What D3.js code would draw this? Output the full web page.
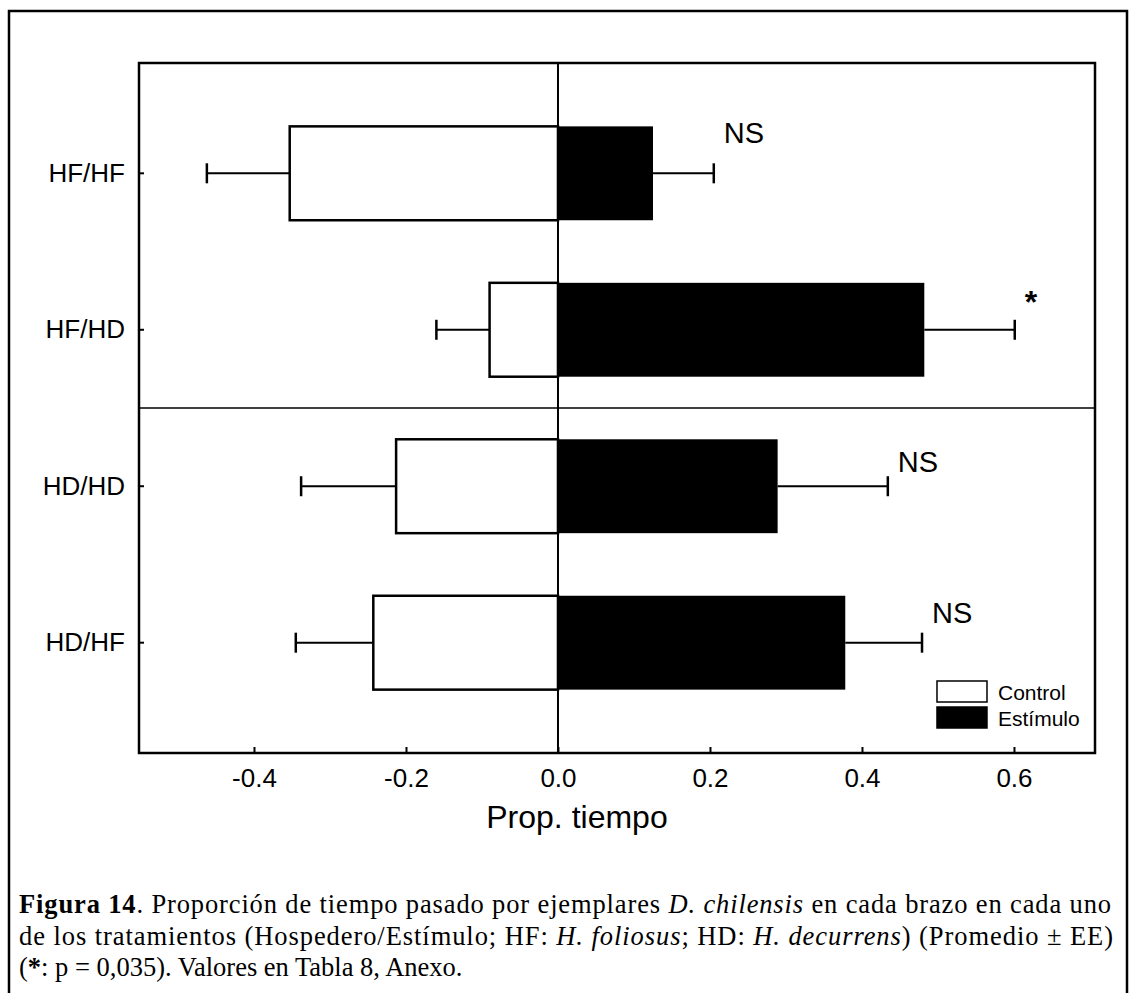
<!DOCTYPE html>
<html>
<head>
<meta charset="utf-8">
<script src="https://cdn.jsdelivr.net/npm/d3@7"></script>
<style>
    body { margin: 0; background: #fff; }
    svg { display: block; }
    .sans { font-family: "Liberation Sans", Arial, sans-serif; }
    .serif { font-family: "Liberation Serif", "Times New Roman", serif; }
</style>
</head>
<body>
<div id="chart"></div>
<script>
/* eslint-env browser */

var categories = ["HF/HF", "HF/HD", "HD/HD", "HD/HF"],
    controlMean = [-0.353, -0.090, -0.213, -0.243],
    controlErr = [0.109, 0.070, 0.125, 0.102],
    stimulusMean = [0.125, 0.482, 0.289, 0.378],
    stimulusErr = [0.080, 0.119, 0.145, 0.101],
    sigLabels = ["NS", "*", "NS", "NS"],
    xTicks = [-0.4, -0.2, 0.0, 0.2, 0.4, 0.6],
    legendLabels = ["Control", "Estímulo"];

// per-row vertical nudge of the significance marks (layout only)
var sigNudge = [-30, -20, -14, -20];

var width = 1129,
    height = 993,
    margin = { top: 63, right: 34, bottom: 240, left: 139 },
    plotW = width - margin.left - margin.right,
    plotH = height - margin.top - margin.bottom;

var svg = d3.select("#chart").append("svg")
    .attr("width", width)
    .attr("height", height);

// outer frame of the scanned figure
svg.append("path")
    .attr("d", "M9,1000 L9,11 L1127,11 L1127,1000")
    .attr("fill", "none")
    .attr("stroke", "#000")
    .attr("stroke-width", 2.5);

var g = svg.append("g")
    .attr("transform", "translate(" + margin.left + "," + margin.top + ")");

var x = d3.scaleLinear()
        .domain([-0.5513, 0.7066])
        .range([0, plotW]),
    y = d3.scaleBand()
        .domain(categories)
        .range([0, plotH])
        .paddingInner(0.4)
        .paddingOuter(0.405);

var rows = categories.map(function (c, i) {
    return {
        cat: c,
        control: controlMean[i],
        controlErr: controlErr[i],
        stim: stimulusMean[i],
        stimErr: stimulusErr[i],
        sig: sigLabels[i],
        nudge: sigNudge[i]
    };
});

// error bars (drawn first so bars cover the stems)
function errBar(sel, valueFn, errFn) {
    sel.append("line")
        .attr("x1", function (d) { return x(valueFn(d)); })
        .attr("x2", function (d) { return x(valueFn(d) + errFn(d)); })
        .attr("y1", function (d) { return y(d.cat) + y.bandwidth() / 2; })
        .attr("y2", function (d) { return y(d.cat) + y.bandwidth() / 2; })
        .attr("stroke", "#000")
        .attr("stroke-width", 2);
    sel.append("line")
        .attr("x1", function (d) { return x(valueFn(d) + errFn(d)); })
        .attr("x2", function (d) { return x(valueFn(d) + errFn(d)); })
        .attr("y1", function (d) { return y(d.cat) + y.bandwidth() / 2 - 10; })
        .attr("y2", function (d) { return y(d.cat) + y.bandwidth() / 2 + 10; })
        .attr("stroke", "#000")
        .attr("stroke-width", 2.5);
}

var rowG = g.append("g").selectAll("g")
    .data(rows)
    .enter().append("g");

errBar(rowG, function (d) { return d.control; }, function (d) { return -d.controlErr; });
errBar(rowG, function (d) { return d.stim; }, function (d) { return d.stimErr; });

rowG.append("rect")
    .attr("x", function (d) { return x(d.control); })
    .attr("y", function (d) { return y(d.cat); })
    .attr("width", function (d) { return x(0) - x(d.control); })
    .attr("height", y.bandwidth())
    .attr("fill", "#fff")
    .attr("stroke", "#000")
    .attr("stroke-width", 2.5);

rowG.append("rect")
    .attr("x", x(0))
    .attr("y", function (d) { return y(d.cat); })
    .attr("width", function (d) { return x(d.stim) - x(0); })
    .attr("height", y.bandwidth())
    .attr("fill", "#000");

rowG.append("text")
    .attr("class", "sans")
    .attr("x", function (d) { return x(d.stim + d.stimErr) + 10; })
    .attr("y", function (d) {
        return y(d.cat) + y.bandwidth() / 2 + d.nudge + (d.sig === "*" ? 3 : 0);
    })
    .attr("font-size", function (d) { return d.sig === "*" ? 32 : 29; })
    .attr("font-weight", function (d) { return d.sig === "*" ? "bold" : "normal"; })
    .text(function (d) { return d.sig; });

// zero line and separator between host groups
g.append("line")
    .attr("x1", x(0)).attr("x2", x(0))
    .attr("y1", 0).attr("y2", plotH)
    .attr("stroke", "#000").attr("stroke-width", 2);

g.append("line")
    .attr("x1", 0).attr("x2", plotW)
    .attr("y1", (y("HF/HD") + y.bandwidth() + y("HD/HD")) / 2)
    .attr("y2", (y("HF/HD") + y.bandwidth() + y("HD/HD")) / 2)
    .attr("stroke", "#000").attr("stroke-width", 1.5);

// axes
var xAxis = g.append("g")
    .attr("class", "sans")
    .attr("transform", "translate(0," + plotH + ")")
    .call(d3.axisBottom(x).tickValues(xTicks).tickSize(-6).tickPadding(16)
        .tickFormat(function (d) { return d.toFixed(1); }));

var yAxis = g.append("g")
    .attr("class", "sans")
    .call(d3.axisLeft(y).tickSize(-5).tickPadding(14));

[xAxis, yAxis].forEach(function (ax) {
    ax.select(".domain").remove();
    ax.selectAll(".tick line").attr("stroke", "#000").attr("stroke-width", 2);
    ax.selectAll(".tick text")
        .attr("fill", "#000")
        .attr("font-family", "Liberation Sans, Arial, sans-serif")
        .attr("font-size", 26);
});
xAxis.selectAll(".tick text").attr("dy", "0.71em");

g.append("rect")
    .attr("width", plotW)
    .attr("height", plotH)
    .attr("fill", "none")
    .attr("stroke", "#000")
    .attr("stroke-width", 2.5);

g.append("text")
    .attr("class", "sans")
    .attr("x", x(0.025))
    .attr("y", plotH + 75)
    .attr("text-anchor", "middle")
    .attr("font-size", 32)
    .text("Prop. tiempo");

// legend
var legend = g.append("g")
    .attr("transform", "translate(" + (x(0.5) - 1) + "," + (plotH - 72) + ")");

legend.selectAll("rect")
    .data(legendLabels)
    .enter().append("rect")
    .attr("x", 0)
    .attr("y", function (d, i) { return i * 26; })
    .attr("width", 50)
    .attr("height", 21)
    .attr("fill", function (d, i) { return i === 0 ? "#fff" : "#000"; })
    .attr("stroke", "#000")
    .attr("stroke-width", 1.5);

legend.selectAll("text")
    .data(legendLabels)
    .enter().append("text")
    .attr("class", "sans")
    .attr("x", 61)
    .attr("y", function (d, i) { return i * 26 + 19; })
    .attr("font-size", 21)
    .text(function (d) { return d; });

// caption
var caption = [
    [["Figura 14", "b"], [". Proporción de tiempo pasado por ejemplares ", ""], ["D. chilensis", "i"], [" en cada brazo en cada uno", ""]],
    [["de los tratamientos (Hospedero/Estímulo; HF: ", ""], ["H. foliosus", "i"], ["; HD: ", ""], ["H. decurrens", "i"], [") (Promedio ± EE)", ""]],
    [["(", ""], ["*", "b"], [": p = 0,035). Valores en Tabla 8, Anexo.", ""]]
];
var captionLen = [1092, 1094, null];

caption.forEach(function (parts, i) {
    var t = svg.append("text")
        .attr("class", "serif")
        .attr("x", 19)
        .attr("y", 913 + i * 31.5)
        .attr("font-size", 26.5)
        .attr("fill", "#000");
    if (captionLen[i]) {
        t.attr("textLength", captionLen[i]).attr("lengthAdjust", "spacing");
    }
    parts.forEach(function (p) {
        t.append("tspan")
            .attr("font-weight", p[1] === "b" ? "bold" : null)
            .attr("font-style", p[1] === "i" ? "italic" : null)
            .text(p[0]);
    });
});
</script>
</body>
</html>
